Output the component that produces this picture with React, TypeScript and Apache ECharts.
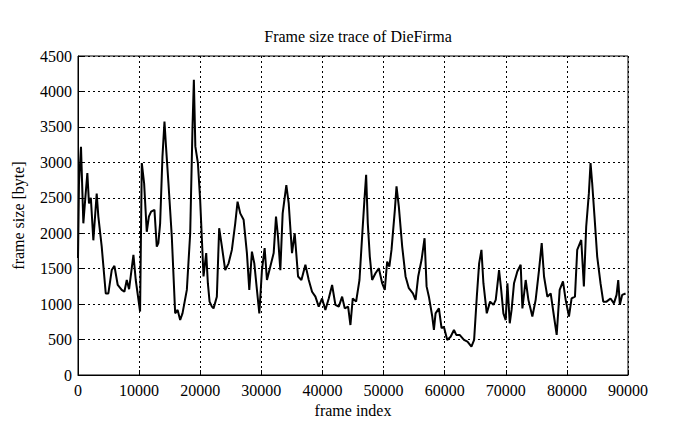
import React, { useEffect, useRef } from "react";
import * as echarts from "echarts";

const frameIndex = [
  0, 160, 490, 875, 1200, 1530, 1800, 2100, 2510, 3060, 3330, 3880, 4540, 4970, 5520, 5960,
  6500, 7150, 7590, 7980, 8360, 9070, 9450, 10160, 10440, 10820, 11250, 11600, 11960, 12510,
  12890, 13150, 13440, 13820, 14150, 14400, 14800, 15350, 15900, 16300, 16720, 17100, 17810,
  18360, 18740, 18960, 19200, 19620, 19990, 20300, 20540, 20980, 21250, 21530, 21910, 22180,
  22720, 23100, 23550, 24090, 24640, 25180, 25730, 26110, 26550, 27100, 27640, 28030, 28460,
  28850, 29280, 29670, 30100, 30540, 30920, 31470, 32020, 32400, 32730, 33110, 33490, 34090,
  34480, 35020, 35460, 36010, 36560, 37210, 37760, 38300, 38850, 39390, 39940, 40480, 41030,
  41580, 42120, 42670, 43220, 43650, 44200, 44580, 44960, 45510, 46060, 46490, 46870, 47150,
  47420, 47750, 48130, 48680, 49230, 49770, 50200, 50590, 50950, 51300, 51850, 52120, 52500,
  53050, 53600, 54140, 54800, 55240, 55670, 56220, 56710, 57040, 57420, 57970, 58240, 58510,
  59060, 59490, 59870, 60420, 60970, 61520, 61900, 62450, 63160, 63730, 64380, 64820, 65260,
  65640, 66020, 66340, 66890, 67430, 67980, 68360, 68900, 69250, 69610, 69990, 70270, 70650,
  70950, 71350, 71890, 72440, 72720, 73260, 73700, 74350, 74890, 75440, 75880, 76260, 76800,
  77350, 77890, 78330, 78820, 79360, 79800, 80340, 80770, 81320, 81690, 82350, 82780, 83160,
  83600, 83870, 84140, 84520, 84960, 85500, 85950, 86490, 87140, 87690, 88130, 88400, 88670,
  89050, 89600,
];

const frameSize = [
  1650, 2700, 3220, 2140, 2500, 2850, 2420, 2500, 1900, 2560, 2235, 1810, 1150, 1150, 1480, 1540,
  1270, 1200, 1175, 1340, 1210, 1695, 1340, 895, 2990, 2705, 2020, 2235, 2305, 2330,
  1810, 1860, 2140, 3080, 3575, 3225, 2705, 1950, 870, 918, 776, 870, 1200,
  2000, 3505, 4165, 3225, 2990, 2470, 1860, 1390, 1720, 1295, 1035, 965, 940,
  1105, 2070, 1810, 1480, 1575, 1765, 2140, 2445, 2280, 2190, 1720, 1200, 1740,
  1575, 1200, 870, 1480, 1790, 1340, 1530, 1720, 2235, 1950, 1480, 2280, 2680,
  2420, 1720, 2000, 1390, 1340, 1555, 1340, 1175, 1105, 965, 1080, 918, 1080,
  1270, 990, 965, 1105, 940, 965, 705, 1080, 1035, 1340, 1950, 2470, 2825,
  2140, 1670, 1340, 1435, 1505, 1295, 1200, 1600, 1530, 1765, 2330, 2660, 2375,
  1810, 1390, 1225, 1150, 1060, 1390, 1625, 1930, 1250, 1105, 825, 635, 870,
  940, 660, 680, 495, 540, 635, 565, 565, 495, 470, 400, 495, 1105,
  1575, 1765, 1295, 870, 1035, 990, 1060, 1480, 1200, 870, 775, 1295, 730,
  918, 1295, 1460, 1555, 940, 1340, 1060, 825, 1060, 1480, 1860, 1390, 1105,
  1150, 825, 565, 1200, 1320, 1060, 825, 1080, 1105, 1765, 1905, 1250, 2095,
  2565, 2990, 2705, 2235, 1670, 1295, 1035, 1035, 1080, 1010, 1130, 1340, 990,
  1130, 1150,
];

const xTicks = { min: 0, max: 90000, interval: 10000 };
const yTicks = { min: 0, max: 4500, interval: 500 };

const FONT = "Liberation Serif";

export default function App() {
  const ref = useRef<HTMLDivElement>(null);
  useEffect(() => {
    if (!ref.current) return;
    const chart = echarts.init(ref.current, null, { renderer: "svg" });
    const data = frameIndex.map((x, i) => [x, frameSize[i]]);
    const plain = (v: number) => String(v);
    chart.setOption({
      animation: false,
      backgroundColor: "#ffffff",
      title: {
        text: "Frame size trace of DieFirma",
        left: 353,
        top: 23,
        textAlign: "center",
        textStyle: { fontFamily: FONT, fontSize: 16, fontWeight: "normal", color: "#000" },
      },
      grid: {
        left: 78,
        right: 67,
        top: 56,
        bottom: 54,
        show: true,
        borderColor: "#000",
        borderWidth: 1,
        backgroundColor: "transparent",
      },
      xAxis: {
        type: "value",
        min: xTicks.min,
        max: xTicks.max,
        interval: xTicks.interval,
        name: "frame index",
        nameLocation: "middle",
        nameGap: 23,
        nameTextStyle: { fontFamily: FONT, fontSize: 16, color: "#000" },
        axisLine: { show: true, lineStyle: { color: "#000", width: 1 } },
        axisTick: { show: true, inside: true, length: 5, lineStyle: { color: "#000" } },
        axisLabel: { fontFamily: FONT, fontSize: 16, color: "#000", margin: 7, formatter: plain },
        splitLine: { show: true, lineStyle: { color: "#000", type: [2, 3], width: 1 } },
      },
      yAxis: {
        type: "value",
        min: yTicks.min,
        max: yTicks.max,
        interval: yTicks.interval,
        name: "frame size [byte]",
        nameLocation: "middle",
        nameGap: 52,
        nameRotate: 90,
        nameTextStyle: { fontFamily: FONT, fontSize: 16, color: "#000" },
        axisLine: { show: true, lineStyle: { color: "#000", width: 1 } },
        axisTick: { show: true, inside: true, length: 5, lineStyle: { color: "#000" } },
        axisLabel: { fontFamily: FONT, fontSize: 16, color: "#000", margin: 6, formatter: plain },
        splitLine: { show: true, lineStyle: { color: "#000", type: [2, 3], width: 1 } },
      },
      series: [
        {
          type: "line",
          data,
          showSymbol: false,
          symbol: "none",
          lineStyle: { color: "#000", width: 2 },
        },
      ],
    });
    return () => chart.dispose();
  }, []);
  return (
    <div
      ref={ref}
      style={{ position: "fixed", left: 0, top: 0, width: 695, height: 429 }}
    />
  );
}
